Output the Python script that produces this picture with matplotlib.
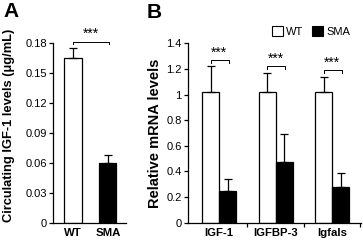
import matplotlib
matplotlib.use("Agg")
import matplotlib.pyplot as plt
from matplotlib.patches import Patch
import numpy as np

plt.rcParams['font.family'] = ['Liberation Sans', 'DejaVu Sans']

# Panel A data
a_groups = ["WT", "SMA"]
a_values = [0.165, 0.060]
a_errors = [0.0095, 0.008]
a_colors = ["white", "black"]
a_yticks = [0, 0.03, 0.06, 0.09, 0.12, 0.15, 0.18]
a_yticklabels = ["0", "0.03", "0.06", "0.09", "0.12", "0.15", "0.18"]

# Panel B data
b_genes = ["IGF-1", "IGFBP-3", "Igfals"]
b_wt = [1.02, 1.02, 1.02]
b_wt_err = [0.20, 0.15, 0.12]
b_sma = [0.244, 0.472, 0.275]
b_sma_err = [0.10, 0.22, 0.11]
b_yticks = [0, 0.2, 0.4, 0.6, 0.8, 1.0, 1.2, 1.4]
b_yticklabels = ["0", "0.2", "0.4", "0.6", "0.8", "1", "1.2", "1.4"]

W, H = 363, 241
fig = plt.figure(figsize=(W / 100, H / 100), dpi=100)

def px_axes(left, right, bottom, top):
    return fig.add_axes([left / W, 1 - bottom / H, (right - left) / W, (bottom - top) / H])

def style(ax):
    ax.spines['top'].set_visible(False)
    ax.spines['right'].set_visible(False)
    for s in ['left', 'bottom']:
        ax.spines[s].set_linewidth(0.9)
    ax.tick_params(axis='y', direction='out', length=3, width=0.9, labelsize=8, pad=1.5)
    ax.tick_params(axis='x', length=0, labelsize=8.2, pad=4)

err_kw = dict(ecolor='black', elinewidth=0.9, capsize=2.8, capthick=0.9)

# ---- Panel A ----
axA = px_axes(53, 126, 222.7, 43)
xA = np.arange(len(a_groups))
axA.bar(xA, a_values, width=0.49, color=a_colors, edgecolor='black', linewidth=0.9,
        yerr=[np.zeros(len(a_errors)), a_errors], error_kw=err_kw, zorder=2)
axA.set_xlim(-0.575, 1.52)
axA.set_ylim(0, 0.18)
axA.set_yticks(a_yticks)
axA.set_yticklabels(a_yticklabels)
axA.set_xticks(xA)
axA.set_xticklabels(a_groups, fontweight='bold')
style(axA)
axA.set_ylabel("Circulating IGF-1 levels (μg/mL)", fontsize=9.3, fontweight='bold')
axA.yaxis.set_label_coords(-0.52, 0.54)
# significance bracket
yb = 0.1815
axA.plot([0, 0, 1.03, 1.03], [yb - 0.0025, yb, yb, yb - 0.0025], color='black', lw=0.7, clip_on=False)
axA.text(0.5, yb + 0.0003, "***", ha='center', va='bottom', fontsize=10, clip_on=False)

# ---- Panel B ----
axB = px_axes(188, 361, 222.7, 43.4)
xB = np.arange(len(b_genes))
off, bw = 0.15, 0.30
axB.bar(xB - off, b_wt, width=bw, color='white', edgecolor='black', linewidth=0.9,
        yerr=[np.zeros(3), b_wt_err], error_kw=err_kw, zorder=2, label='WT')
axB.bar(xB + off, b_sma, width=bw, color='black', edgecolor='black', linewidth=0.9,
        yerr=[np.zeros(3), b_sma_err], error_kw=err_kw, zorder=2, label='SMA')
axB.set_xlim(-0.55, 2.51)
axB.set_ylim(0, 1.4)
axB.set_yticks(b_yticks)
axB.set_yticklabels(b_yticklabels)
axB.set_xticks(xB)
axB.set_xticklabels(b_genes, fontweight='bold')
axB.set_xticks([0.5, 1.5, 2.5], minor=True)
axB.tick_params(axis='x', which='minor', length=3, width=0.9, direction='out')
style(axB)
axB.set_ylabel("Relative mRNA levels", fontsize=10.5, fontweight='bold', labelpad=3)
for i in range(3):
    yb = b_wt[i] + b_wt_err[i] + 0.05
    axB.plot([i - off, i - off, i + off + 0.02, i + off + 0.02], [yb - 0.02, yb, yb, yb - 0.02],
             color='black', lw=0.7, clip_on=False)
    axB.text(i, yb + 0.002, "***", ha='center', va='bottom', fontsize=10, clip_on=False)

handles = [Patch(facecolor='white', edgecolor='black', linewidth=0.8, label='WT'),
           Patch(facecolor='black', edgecolor='black', linewidth=0.8, label='SMA')]
fig.legend(handles=handles, loc='center', bbox_to_anchor=(311 / W, 1 - 31.5 / H), ncol=2,
           frameon=False, fontsize=8, handlelength=1.0, handleheight=1.0,
           handletextpad=0.25, columnspacing=0.8, borderaxespad=0)

# Panel letters
fig.text(3 / W, 1 - 2 / H, "A", fontsize=15, fontweight='bold', ha='left', va='top')
fig.text(147 / W, 1 - 3 / H, "B", fontsize=15, fontweight='bold', ha='left', va='top')

fig.savefig("out.png", dpi=100)
